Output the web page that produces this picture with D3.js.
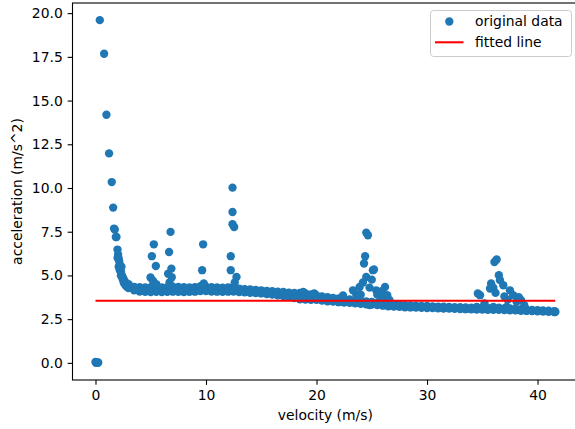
<!DOCTYPE html>
<html>
<head>
<meta charset="utf-8">
<script src="https://cdn.jsdelivr.net/npm/d3@7"></script>
<style>
  html, body { margin: 0; padding: 0; background: #fff; }
  svg { display: block; font-family: "DejaVu Sans", sans-serif; }
</style>
</head>
<body>
<svg id="chart" width="575" height="429"></svg>
<script>
// Standstill samples and the steep drop-off at low speed
const startVelocity = [0.00, 0.05, 0.12, 0.20, 0.25, 0.39, 0.78, 0.99, 1.23, 1.47, 1.60, 1.68, 1.75, 1.84, 1.90, 1.99, 2.05, 2.10, 2.15, 2.20, 2.25, 2.30, 2.40, 2.50, 2.60, 2.70, 2.80, 2.90,
  2.00, 2.10, 2.20, 2.30, 2.35, 2.45, 2.55, 2.65, 2.75, 2.85, 2.95];
const startAccel    = [0.05, 0.00, 0.03, 0.00, 0.02, 19.6, 17.68, 14.19, 11.98, 10.34, 8.88, 7.68, 7.62, 7.20, 7.20, 6.48, 6.20, 5.97, 5.80, 5.60, 5.40, 5.22, 5.00, 4.85, 4.72, 4.62, 4.52, 4.45,
  6.00, 5.50, 5.30, 5.00, 5.50, 4.80, 4.60, 4.50, 4.40, 4.35, 4.30];

// Main cruising band: upper and lower edge of the sample cloud
const bandVelocity = [3.0, 3.5, 4.0, 4.5, 5.0, 5.5, 6.0, 6.5, 7.0, 7.5, 8.0, 8.5, 9.0, 9.5, 10.0, 10.5, 11.0, 11.5, 12.0, 12.5,
  13.0, 13.5, 14.0, 14.5, 15.0, 15.5, 16.0, 16.5, 17.0, 17.5, 18.0, 18.5, 19.0, 19.5, 20.0, 20.5, 21.0, 21.5, 22.0, 22.5,
  23.0, 23.5, 24.0, 24.5, 25.0, 25.5, 26.0, 26.5, 27.0, 27.5, 28.0, 28.5, 29.0, 29.5, 30.0, 30.5, 31.0, 31.5, 32.0, 32.5,
  33.0, 33.5, 34.0, 34.5, 35.0, 35.5, 36.0, 36.5, 37.0, 37.5, 38.0, 38.5, 39.0, 39.5, 40.0, 40.5, 41.0, 41.5, 41.6];
const bandUpper = [4.50, 4.35, 4.33, 4.32, 4.33, 4.34, 4.32, 4.33, 4.36, 4.34, 4.33, 4.32, 4.33, 4.39, 4.36, 4.33, 4.31, 4.30, 4.32, 4.35,
  4.25, 4.22, 4.20, 4.17, 4.15, 4.12, 4.10, 4.07, 4.05, 4.02, 4.00, 4.00, 3.97, 3.92, 3.86, 3.80, 3.75, 3.71, 3.68, 3.66,
  3.63, 3.60, 3.56, 3.52, 3.48, 3.44, 3.40, 3.37, 3.35, 3.32, 3.30, 3.28, 3.27, 3.26, 3.25, 3.23, 3.22, 3.21, 3.20, 3.19,
  3.18, 3.17, 3.16, 3.20, 3.15, 3.14, 3.20, 3.15, 3.12, 3.11, 3.10, 3.07, 3.05, 3.03, 3.02, 3.00, 2.98, 2.95, 2.94];
const bandLower = [4.28, 4.15, 4.08, 4.06, 4.05, 4.06, 4.05, 4.06, 4.07, 4.06, 4.05, 4.06, 4.07, 4.11, 4.10, 4.08, 4.07, 4.06, 4.07, 4.08,
  4.05, 4.03, 4.01, 3.99, 3.97, 3.93, 3.90, 3.86, 3.82, 3.76, 3.70, 3.64, 3.62, 3.61, 3.60, 3.56, 3.52, 3.50, 3.47, 3.45,
  3.44, 3.41, 3.38, 3.35, 3.33, 3.30, 3.27, 3.24, 3.22, 3.20, 3.18, 3.17, 3.16, 3.15, 3.14, 3.13, 3.12, 3.11, 3.10, 3.09,
  3.08, 3.07, 3.06, 3.05, 3.05, 3.04, 3.04, 3.03, 3.02, 3.01, 3.00, 2.98, 2.97, 2.96, 2.95, 2.93, 2.92, 2.90, 2.90];

// Bursts of acceleration during gear shifts and speed changes
const spikeVelocity = [4.98, 5.10, 5.20, 5.28, 5.46, 5.50,
  6.57, 6.66, 6.70, 6.79, 6.87, 6.90,
  9.65, 9.74, 9.80,
  12.24, 12.24, 12.40, 12.40, 12.40, 12.55, 12.60, 12.76,
  18.8, 19.8, 22.4,
  23.3, 23.6, 23.9, 24.0, 24.2, 24.3, 24.4, 24.5, 24.5, 24.65, 24.8, 24.8, 25.0, 25.1, 25.2, 25.4, 25.5, 25.7, 25.9, 26.0, 26.2, 26.4, 26.6,
  34.6, 34.8, 35.2, 35.4, 35.7, 35.8, 36.0, 36.1, 36.2, 36.3, 36.5, 36.6, 36.9, 37.0, 37.2, 37.3, 37.5, 37.8, 38.1, 38.3, 38.5, 38.8];
const spikeAccel = [4.88, 6.10, 4.70, 6.78, 5.54, 4.50,
  5.10, 6.34, 4.60, 7.49, 5.39, 4.90,
  5.30, 6.78, 4.54,
  6.10, 5.30, 10.02, 8.63, 7.93, 7.77, 4.60, 4.91,
  4.06, 3.97, 3.85,
  4.15, 3.90, 4.34, 3.90, 4.60, 5.68, 6.10, 7.45, 4.91, 7.30, 3.30, 4.30, 4.76, 5.30, 5.34, 4.15, 3.90, 3.49, 4.10, 3.70, 4.34, 3.87, 3.60,
  3.97, 3.87, 3.40, 3.10, 4.25, 4.54, 4.30, 5.77, 4.00, 5.91, 5.01, 4.73, 4.44, 3.80, 3.20, 3.60, 4.15, 3.87, 3.49, 3.75, 3.60, 3.30];

// Least-squares fit (constant)
const fitVelocity = [0, 41.6];
const fitAccel = [3.55, 3.55];

const xTicks = [0, 10, 20, 30, 40];
const yTicks = [0, 2.5, 5, 7.5, 10, 12.5, 15, 17.5, 20];

const svg = d3.select("#chart");
const plot = { left: 72.5, right: 578.2, top: 3, bottom: 380 };
const fontSize = 13.9;
const tickLen = 4.86;

const x = d3.scaleLinear().domain([-2.08, 43.68]).range([plot.left, plot.right]);
const y = d3.scaleLinear().domain([-0.98, 20.58]).range([plot.bottom, plot.top]);

// Collect all samples
const points = [];
startVelocity.forEach((v, i) => points.push([v, startAccel[i]]));
bandVelocity.forEach((v, i) => {
  points.push([v, bandUpper[i]]);
  points.push([v, bandLower[i]]);
});
spikeVelocity.forEach((v, i) => points.push([v, spikeAccel[i]]));

const blue = "#1f77b4";
const red = "#ff0000";

svg.append("g")
  .selectAll("circle")
  .data(points)
  .join("circle")
  .attr("cx", d => x(d[0]))
  .attr("cy", d => y(d[1]))
  .attr("r", 4.17)
  .attr("fill", blue);

// Fitted line
svg.append("path")
  .datum(fitVelocity.map((v, i) => [v, fitAccel[i]]))
  .attr("fill", "none")
  .attr("stroke", red)
  .attr("stroke-width", 2.08)
  .attr("d", d3.line().x(d => x(d[0])).y(d => y(d[1])));

// Axes
const xAxis = svg.append("g")
  .attr("transform", `translate(0,${plot.bottom})`)
  .call(d3.axisBottom(x).tickValues(xTicks).tickFormat(d3.format("d"))
    .tickSize(tickLen).tickSizeOuter(0).tickPadding(4.86));
const yAxis = svg.append("g")
  .attr("transform", `translate(${plot.left},0)`)
  .call(d3.axisLeft(y).tickValues(yTicks).tickFormat(d3.format(".1f"))
    .tickSize(tickLen).tickSizeOuter(0).tickPadding(4.86));

[xAxis, yAxis].forEach(g => {
  g.selectAll("path.domain").remove();
  g.selectAll("line").attr("stroke", "#000").attr("stroke-width", 1.1);
  g.selectAll("text")
    .attr("font-family", "DejaVu Sans, sans-serif")
    .attr("font-size", fontSize)
    .attr("fill", "#000");
});

// Spines
svg.append("rect")
  .attr("x", plot.left)
  .attr("y", plot.top)
  .attr("width", plot.right - plot.left)
  .attr("height", plot.bottom - plot.top)
  .attr("fill", "none")
  .attr("stroke", "#000")
  .attr("stroke-width", 1.1);

// Axis titles
svg.append("text")
  .attr("x", (plot.left + plot.right) / 2)
  .attr("y", 420)
  .attr("text-anchor", "middle")
  .attr("font-size", fontSize)
  .text("velocity (m/s)");

svg.append("text")
  .attr("transform", `translate(22,${(plot.top + plot.bottom) / 2}) rotate(-90)`)
  .attr("text-anchor", "middle")
  .attr("font-size", fontSize)
  .text("acceleration (m/s^2)");

// Legend
const legend = svg.append("g");
legend.append("rect")
  .attr("x", 430.5).attr("y", 10.5)
  .attr("width", 141).attr("height", 46)
  .attr("rx", 3).attr("ry", 3)
  .attr("fill", "#fff").attr("fill-opacity", 0.8)
  .attr("stroke", "#cccccc").attr("stroke-width", 1);
legend.append("circle")
  .attr("cx", 449.3).attr("cy", 21.5).attr("r", 4.17).attr("fill", blue);
legend.append("line")
  .attr("x1", 435).attr("x2", 463.5)
  .attr("y1", 42.3).attr("y2", 42.3)
  .attr("stroke", red).attr("stroke-width", 2.08);
legend.append("text")
  .attr("x", 475).attr("y", 26.3)
  .attr("font-size", fontSize)
  .text("original data");
legend.append("text")
  .attr("x", 475).attr("y", 47.3)
  .attr("font-size", fontSize)
  .text("fitted line");
</script>
</body>
</html>
